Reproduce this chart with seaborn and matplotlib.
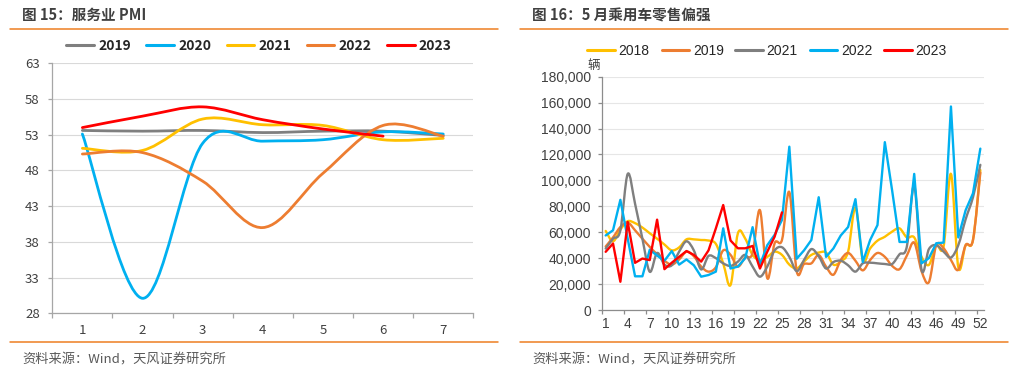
import numpy as np
import matplotlib
matplotlib.use("Agg")
import matplotlib.pyplot as plt
from matplotlib.path import Path
from matplotlib.patches import PathPatch
from matplotlib.lines import Line2D
import seaborn as sns

# 图15 服务业PMI, months 1-7
months = [1, 2, 3, 4, 5, 6, 7]
pmi_2019 = [53.6, 53.5, 53.6, 53.3, 53.5, 53.5, 52.9]
pmi_2020 = [53.1, 30.1, 51.8, 52.1, 52.3, 53.4, 53.1]
pmi_2021 = [51.1, 50.8, 55.2, 54.4, 54.3, 52.3, 52.5]
pmi_2022 = [50.3, 50.5, 46.5, 40.0, 47.6, 54.3, 52.8]
pmi_2023 = [54.0, 55.6, 56.9, 55.1, 53.8, 52.8]

# 图16 乘用车零售 (thousand vehicles), weeks 1-52
weeks = list(range(1, 53))
car_2018 = [61, 53, 62, 68.5, 67, 63.6, 59.2, 55, 50.5, 46, 48.3, 54.5, 54.5, 54, 53.6, 51, 36, 19.3,
            59.2, 55, 42.5, 38.6, 41, 45, 42.5, 35, 32, 37.3, 42.5, 44.3, 44.3, 35, 37.5, 45, 79, 38.5,
            47.5, 53.5, 56.5, 60.5, 63, 56, 56, 41, 34.8, 50, 49, 105, 33, 50, 54, 108]
car_2019 = [49, 56, 64, 67.5, 61.5, 55, 48.7, 43, 38, 35, 39, 45, 41.5, 33.5, 29.6, 33, 46, 42.5,
            33.5, 40.7, 43.8, 77, 24.5, 51.5, 54, 91, 30, 35.5, 36, 42.4, 33.4, 27.2, 38.6, 44, 38, 30.6,
            38.5, 44, 41, 34, 31.5, 42, 52, 30, 21.5, 50, 47.6, 38.6, 31, 50, 54, 106]
car_2021 = [47.4, 55, 61.5, 105, 82, 55, 29.5, 44, 35, 34.5, 45, 53, 46, 31.3, 41.7, 40, 36, 34,
            37.3, 42.5, 33.5, 25.7, 33.5, 46, 48.4, 41, 30, 38.6, 47, 41.5, 32, 37, 38, 34.5, 29.6, 36,
            36.5, 36, 35.5, 35.5, 43, 49, 96, 31, 47, 50, 45, 40.5, 50, 70, 87, 112]
car_2022 = [57.5, 61.5, 85, 55, 26, 26, 46.5, 42, 38, 45.5, 35, 39, 34.5, 25.7, 27, 29.6, 63, 32,
            33.5, 40, 63.9, 34.8, 50, 58, 69.5, 126, 39.5, 46, 54, 87, 41, 47.5, 57.5, 64, 85.5, 37,
            54, 65.5, 129.5, 92, 52.5, 52.5, 105, 36, 40, 51.5, 52, 157, 56, 77, 90, 124.5]
car_2023 = [44.9, 51.3, 21.8, 67.9, 36.4, 39.7, 38.5, 69.7, 31.5, 36.5, 41, 45.5, 42.5, 37.3, 46,
            63, 81, 53.6, 47.6, 47.6, 49.4, 32, 45, 56.6, 75.3]

C_GRAY = "#7F7F7F"
C_BLUE = "#00B0F0"
C_YELLOW = "#FFC000"
C_ORANGE = "#ED7D31"
C_RED = "#FF0000"
C_RULE = "#EE7F22"
C_TEXT = "#404040"


def smooth_line(ax, x, y, color, lw):
    # excel style smoothed line (bezier through the points)
    x = np.asarray(x, float)
    y = np.asarray(y, float)
    n = len(x)
    verts = [(x[0], y[0])]
    codes = [Path.MOVETO]
    for i in range(n - 1):
        a = i - 1 if i > 0 else i
        d = i + 2 if i + 2 < n else i + 1
        c1 = (x[i] + (x[i + 1] - x[a]) / 6, y[i] + (y[i + 1] - y[a]) / 6)
        c2 = (x[i + 1] - (x[d] - x[i]) / 6, y[i + 1] - (y[d] - y[i]) / 6)
        verts += [c1, c2, (x[i + 1], y[i + 1])]
        codes += [Path.CURVE4] * 3
    ax.add_patch(PathPatch(Path(verts, codes), facecolor="none", edgecolor=color,
                           lw=lw, capstyle="round", joinstyle="round"))


sns.set_theme(style="white")
plt.rcParams["font.family"] = ["Noto Sans CJK SC", "DejaVu Sans"]

fig = plt.figure(figsize=(10.21, 3.78), dpi=100)
W, H = 1021, 378


def fx(px):
    return px / W


def fy(py):
    return 1 - py / H


# ---------- left chart ----------
ax1 = fig.add_axes([fx(52.3), fy(313.3), fx(421), 250 / H])
for vals, c in [(pmi_2019, C_GRAY), (pmi_2020, C_BLUE), (pmi_2021, C_YELLOW),
                (pmi_2022, C_ORANGE), (pmi_2023, C_RED)]:
    smooth_line(ax1, months[:len(vals)], vals, c, 2.0)

ax1.set_xlim(0.5, 7.5)
ax1.set_ylim(28, 63)
ax1.set_yticks(range(28, 64, 5))
ax1.set_xticks(months)
ax1.set_xticks(np.arange(0.5, 8, 1), minor=True)
ax1.yaxis.grid(True, color="#D9D9D9", lw=0.8)
ax1.set_axisbelow(True)
for s in ["top", "right"]:
    ax1.spines[s].set_visible(False)
for s in ["left", "bottom"]:
    ax1.spines[s].set_color("#A6A6A6")
    ax1.spines[s].set_linewidth(0.9)
ax1.tick_params(axis="x", which="major", length=0, pad=8, labelsize=9.5, labelcolor=C_TEXT)
ax1.tick_params(axis="x", which="minor", bottom=True, length=3.5, width=0.9, color="#A6A6A6")
ax1.tick_params(axis="y", left=True, length=3, width=0.9, color="#A6A6A6", pad=6,
                labelsize=9.5, labelcolor=C_TEXT)

h1 = [Line2D([], [], color=c, lw=2.2) for c in [C_GRAY, C_BLUE, C_YELLOW, C_ORANGE, C_RED]]
fig.legend(h1, ["2019", "2020", "2021", "2022", "2023"], loc="center",
           bbox_to_anchor=(fx(259), fy(45.7)), ncol=5, frameon=False,
           prop={"size": 10, "weight": "bold"}, handlelength=2.0, handletextpad=0.3,
           columnspacing=1.1, borderpad=0, labelcolor="#262626")

# ---------- right chart ----------
ax2 = fig.add_axes([fx(602), fy(310), fx(382), 233.3 / H])
for vals, c in [(car_2018, C_YELLOW), (car_2019, C_ORANGE), (car_2021, C_GRAY)]:
    smooth_line(ax2, weeks, np.array(vals) * 1000, c, 1.7)
sns.lineplot(x=weeks, y=np.array(car_2022) * 1000, ax=ax2, color=C_BLUE, lw=1.7)
sns.lineplot(x=weeks[:len(car_2023)], y=np.array(car_2023) * 1000, ax=ax2, color=C_RED, lw=1.7)

ax2.set_xlim(0.5, 52.5)
ax2.set_ylim(0, 180000)
ax2.set_yticks(range(0, 180001, 20000))
ax2.set_yticklabels([f"{v:,}" for v in range(0, 180001, 20000)])
ax2.set_xticks(weeks[::3])
ax2.set_xticks(np.arange(0.5, 52, 3), minor=True)
ax2.yaxis.grid(True, color="#E6E6E6", lw=0.8)
ax2.set_axisbelow(True)
for s in ["top", "right"]:
    ax2.spines[s].set_visible(False)
for s in ["left", "bottom"]:
    ax2.spines[s].set_color("#8C8C8C")
    ax2.spines[s].set_linewidth(0.9)
ax2.tick_params(axis="x", which="major", length=0, pad=5, labelsize=10, labelcolor=C_TEXT)
ax2.tick_params(axis="x", which="minor", bottom=True, length=3, width=0.9, color="#8C8C8C")
ax2.tick_params(axis="y", left=True, length=3, width=0.9, color="#8C8C8C", pad=5,
                labelsize=10, labelcolor=C_TEXT)
for lab in ax2.get_xticklabels() + ax2.get_yticklabels():
    lab.set_family(["Liberation Sans", "DejaVu Sans"])

h2 = [Line2D([], [], color=c, lw=2.2) for c in [C_YELLOW, C_ORANGE, C_GRAY, C_BLUE, C_RED]]
fig.legend(h2, ["2018", "2019", "2021", "2022", "2023"], loc="center",
           bbox_to_anchor=(fx(767), fy(50.7)), ncol=5, frameon=False,
           prop={"size": 10, "family": ["Liberation Sans", "DejaVu Sans"]},
           handlelength=2.0, handletextpad=0.25, columnspacing=0.85, borderpad=0,
           labelcolor="#262626")
fig.text(fx(594), fy(66), "辆", fontsize=9, color=C_TEXT, ha="center", va="center")

# ---------- titles, rules, sources ----------
fig.text(fx(22), fy(15), "图 15：服务业 PMI", fontsize=10.5, weight="bold", color=C_TEXT, va="center")
fig.text(fx(532), fy(15), "图 16：5 月乘用车零售偏强", fontsize=10.5, weight="bold", color=C_TEXT, va="center")
for x0, x1 in [(10, 498), (520, 1008)]:
    fig.add_artist(Line2D([fx(x0), fx(x1)], [fy(29.3)] * 2, color=C_RULE, lw=1.1))
    fig.add_artist(Line2D([fx(x0), fx(x1)], [fy(342.3)] * 2, color=C_RULE, lw=1.1))
fig.text(fx(22), fy(360), "资料来源：Wind，天风证券研究所", fontsize=9.5, color="#595959", va="center")
fig.text(fx(532), fy(360), "资料来源：Wind，天风证券研究所", fontsize=9.5, color="#595959", va="center")

fig.savefig("out.png", dpi=100)
